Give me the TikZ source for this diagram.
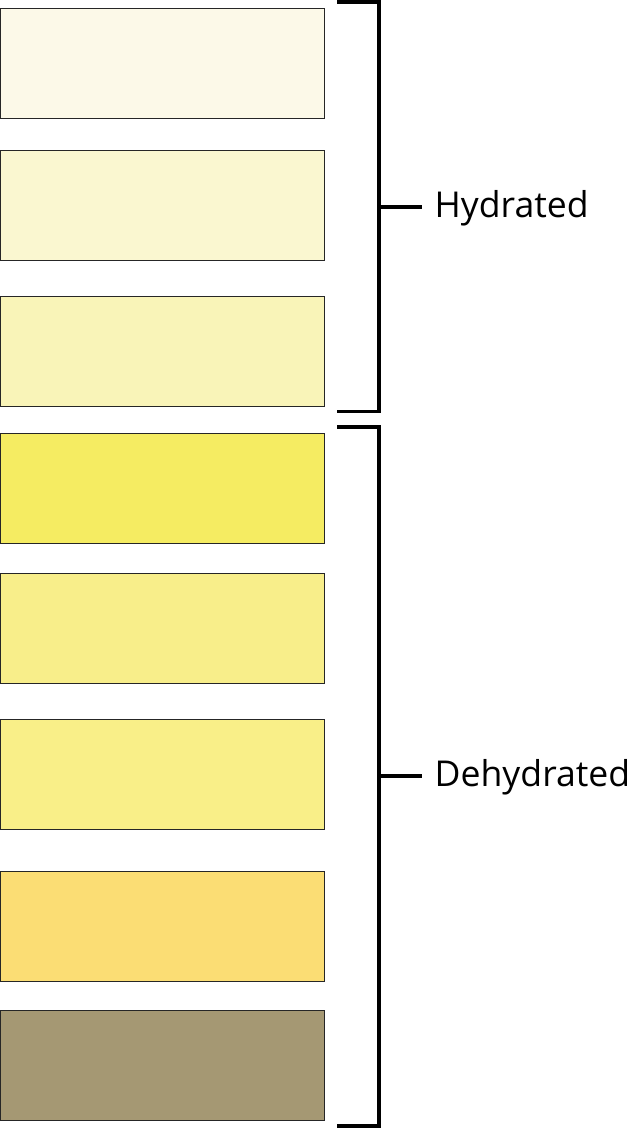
\documentclass[tikz,border=0pt]{standalone}
\usepackage{fontspec}
\setmainfont{Open Sans}
\definecolor{c1}{HTML}{FCF9E8}
\definecolor{c2}{HTML}{FAF7D0}
\definecolor{c3}{HTML}{F9F4B8}
\definecolor{c4}{HTML}{F5EC62}
\definecolor{c5}{HTML}{F8EE8A}
\definecolor{c6}{HTML}{F9EF88}
\definecolor{c7}{HTML}{FBDD74}
\definecolor{c8}{HTML}{A59873}
\tikzset{
  swatch/.style={draw=black!85, line width=0.8pt, rectangle, minimum width=323.5pt, minimum height=110pt, anchor=north west, inner sep=0pt, outer sep=0pt},
  brace/.style={line width=3.2pt, draw=black},
  lab/.style={anchor=west, inner sep=0pt, font=\fontsize{35.6}{40}\selectfont}
}
\begin{document}
\begin{tikzpicture}[x=1pt,y=-1pt]
\useasboundingbox (0,0) rectangle (631,1130);
\node[swatch, fill=c1] (s1) at (0.5,8) {};
\node[swatch, fill=c2] (s2) at (0.5,150) {};
\node[swatch, fill=c3] (s3) at (0.5,296) {};
\node[swatch, fill=c4] (s4) at (0.5,433) {};
\node[swatch, fill=c5] (s5) at (0.5,573) {};
\node[swatch, fill=c6] (s6) at (0.5,719) {};
\node[swatch, fill=c7] (s7) at (0.5,871) {};
\node[swatch, fill=c8] (s8) at (0.5,1010) {};
% bracket 1
\coordinate (b1t) at (337,2);
\coordinate (b1b) at (337,411.5);
\coordinate (b1m) at (379,207);
\coordinate (b1e) at (422,207);
\draw[brace] (b1t) -| (379,411.5) -- (b1b);
\draw[brace] (b1m) -- (b1e);
\node[lab] (hyd) at (434.5,208) {Hydrated};
% bracket 2
\coordinate (b2t) at (337,427);
\coordinate (b2b) at (337,1126);
\coordinate (b2m) at (379,776);
\coordinate (b2e) at (422,776);
\draw[brace] (b2t) -| (379,1126) -- (b2b);
\draw[brace] (b2m) -- (b2e);
\node[lab] (dehyd) at (434.5,777) {Dehydrated};
\end{tikzpicture}
\end{document}
